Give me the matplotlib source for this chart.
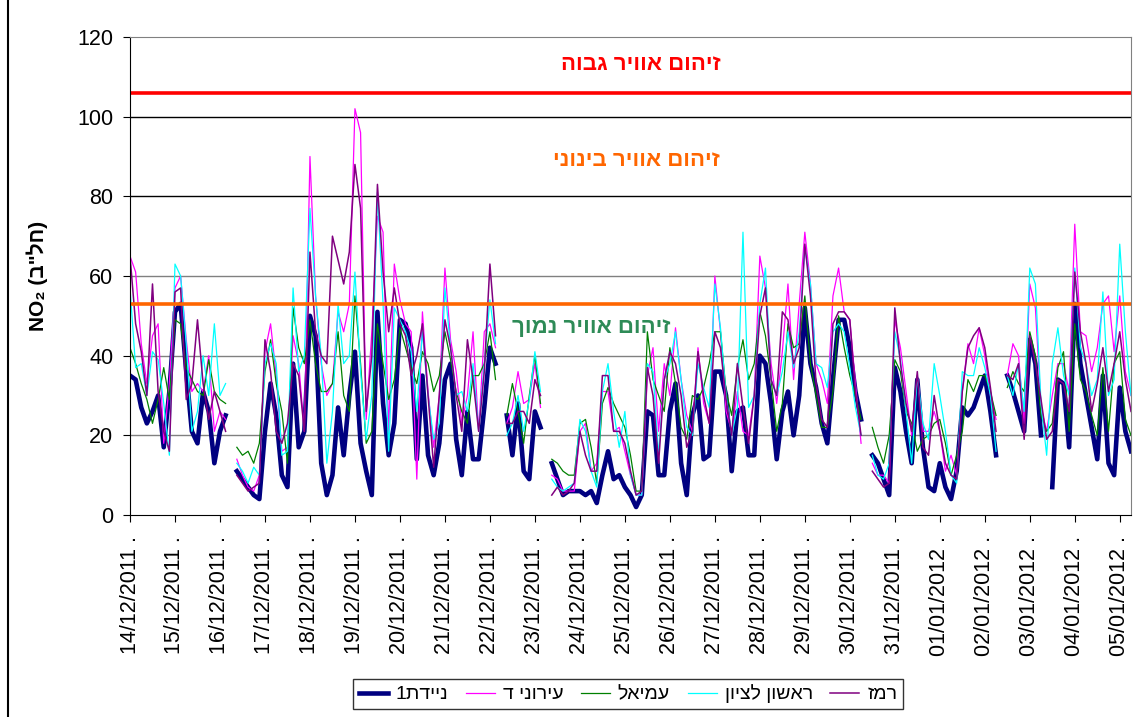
import numpy as np
import pandas as pd
import matplotlib
matplotlib.use("Agg")
import matplotlib.pyplot as plt
from matplotlib.lines import Line2D

plt.rcParams['font.family'] = ['Liberation Sans', 'DejaVu Sans']

nan = np.nan

# 3-hourly NO2 readings (ppb) from 14/12/2011 00:00, one row per day
navy = [
    35, 34, 27, 23, 26, 30, 17, 31,
    51, 53, 36, 21, 18, 31, 26, 13,
    21, 25, nan, 11, 9, 7, 5, 4,
    21, 33, 25, 10, 7, 38, 17, 21,
    50, 45, 13, 5, 10, 27, 15, 30,
    41, 18, 11, 5, 51, 28, 15, 23,
    49, 48, 42, 14, 35, 15, 10, 18,
    34, 38, 19, 10, 26, 14, 14, 27,
    42, 38, nan, 25, 15, 28, 11, 9,
    26, 22, nan, 13, 9, 5, 6, 6,
    6, 5, 6, 3, 10, 16, 9, 10,
    7, 5, 2, 5, 26, 25, 10, 10,
    26, 33, 13, 5, 25, 30, 14, 15,
    36, 36, 30, 11, 26, 27, 15, 15,
    40, 38, 28, 14, 26, 31, 20, 30,
    52, 38, 32, 23, 18, 34, 49, 49,
    42, 31, 24, nan, 15, 13, 9, 5,
    37, 31, 21, 13, 34, 17, 7, 6,
    13, 7, 4, 11, 27, 25, 27, 31,
    35, 26, 15, nan, 35, 31, 26, 21,
    44, 38, 20, nan, 7, 34, 33, 17,
    53, 38, 30, 22, 14, 35, 13, 10,
    32, 21, 16,
]

magenta = [
    65, 61, 43, 33, 45, 48, 18, 33,
    57, 60, 44, 31, 33, 31, 40, 21,
    26, 24, nan, 14, 10, 7, 6, 10,
    41, 48, 35, 16, 17, 45, 38, 21,
    90, 55, 38, 30, 33, 51, 46, 53,
    102, 96, 24, 46, 75, 71, 21, 63,
    54, 48, 46, 9, 51, 31, 17, 30,
    62, 44, 36, 23, 30, 46, 21, 46,
    48, 42, nan, 23, 27, 36, 28, 29,
    38, 27, nan, 10, 9, 6, 6, 6,
    21, 23, 11, 13, 31, 31, 21, 22,
    16, 10, 5, 5, 35, 42, 21, 38,
    30, 47, 34, 25, 21, 42, 28, 23,
    60, 46, 26, 21, 31, 21, 20, 30,
    65, 57, 38, 28, 41, 58, 34, 53,
    71, 58, 38, 34, 28, 55, 62, 51,
    49, 33, 18, nan, 13, 10, 10, 8,
    49, 42, 31, 20, 35, 21, 21, 26,
    21, 11, 15, 10, 31, 43, 38, 47,
    40, 30, 24, nan, 35, 43, 40, 23,
    58, 52, 27, 21, 30, 38, 38, 31,
    73, 46, 45, 36, 42, 53, 55, 41,
    55, 36, 30,
]

green = [
    42, 38, 33, 29, 23, 29, 37, 29,
    49, 48, 37, 34, 31, 30, 39, 31,
    29, 28, nan, 17, 15, 16, 13, 18,
    36, 44, 33, 26, 13, 52, 42, 38,
    49, 38, 31, 31, 33, 46, 30, 26,
    55, 38, 18, 21, 48, 38, 29, 34,
    47, 42, 37, 33, 41, 38, 31, 35,
    46, 39, 31, 26, 23, 35, 35, 38,
    46, 34, nan, 25, 33, 26, 18, 30,
    40, 28, nan, 14, 13, 11, 10, 10,
    23, 24, 17, 8, 28, 32, 28, 25,
    22, 15, 6, 6, 46, 34, 30, 26,
    42, 33, 22, 19, 30, 29, 32, 38,
    46, 46, 31, 25, 37, 44, 34, 38,
    51, 45, 34, 21, 28, 48, 42, 43,
    55, 38, 30, 22, 22, 31, 50, 42,
    35, 30, 24, nan, 22, 17, 13, 20,
    39, 36, 26, 23, 16, 19, 20, 23,
    24, 18, 10, 15, 21, 34, 31, 35,
    35, 31, 25, nan, 32, 36, 33, 31,
    46, 40, 25, 21, 23, 37, 41, 21,
    48, 34, 31, 25, 20, 37, 21, 38,
    41, 24, 20,
]

cyan = [
    57, 37, 38, 30, 41, 39, 28, 15,
    63, 60, 43, 21, 26, 40, 30, 48,
    30, 33, nan, 13, 11, 8, 12, 10,
    38, 43, 38, 15, 16, 57, 36, 40,
    77, 55, 40, 13, 26, 53, 38, 40,
    61, 36, 19, 30, 81, 53, 16, 52,
    49, 46, 41, 26, 46, 30, 19, 23,
    57, 42, 30, 31, 26, 38, 21, 38,
    54, 43, nan, 20, 23, 30, 21, 29,
    41, 31, nan, 9, 7, 6, 7, 8,
    24, 21, 11, 7, 31, 38, 26, 17,
    26, 10, 5, 5, 38, 36, 15, 34,
    38, 46, 34, 22, 20, 38, 32, 27,
    58, 47, 30, 20, 27, 71, 27, 30,
    53, 62, 34, 30, 36, 46, 37, 46,
    67, 58, 38, 37, 32, 46, 48, 46,
    37, 27, 20, nan, 15, 10, 9, 13,
    46, 39, 26, 13, 35, 23, 19, 38,
    30, 21, 10, 8, 36, 35, 35, 42,
    37, 30, 16, nan, 35, 30, 38, 26,
    62, 58, 28, 15, 38, 47, 35, 30,
    62, 42, 38, 30, 34, 56, 30, 34,
    68, 46, 30,
]

purple = [
    65, 48, 41, 30, 58, 31, 21, 16,
    56, 57, 29, 33, 49, 33, 24, 31,
    26, 21, nan, 10, 8, 6, 7, 8,
    44, 36, 21, 18, 23, 38, 35, 21,
    66, 46, 40, 38, 70, 64, 58, 66,
    88, 77, 26, 40, 83, 61, 46, 57,
    48, 45, 35, 40, 48, 30, 12, 30,
    49, 42, 30, 21, 44, 34, 21, 36,
    63, 45, nan, 23, 23, 26, 26, 23,
    34, 30, nan, 5, 7, 5, 6, 8,
    21, 15, 11, 11, 35, 35, 21, 21,
    18, 11, 5, 6, 37, 30, 13, 34,
    41, 38, 30, 17, 21, 41, 30, 23,
    46, 42, 29, 20, 38, 27, 18, 30,
    50, 57, 34, 30, 51, 49, 38, 42,
    68, 55, 33, 24, 22, 48, 51, 51,
    49, 31, 20, nan, 11, 9, 7, 8,
    52, 38, 28, 21, 36, 17, 15, 30,
    21, 13, 10, 9, 31, 42, 45, 47,
    42, 32, 21, nan, 35, 34, 38, 19,
    45, 38, 29, 19, 21, 34, 33, 26,
    61, 46, 38, 26, 33, 42, 31, 38,
    46, 34, 26,
]

station_names = ["ניידת1", "עירוני ד", "עמיאל", "ראשון לציון", "רמז"]
level_names = ["זיהום אוויר גבוה", "זיהום אוויר בינוני", "זיהום אוויר נמוך"]
high_limit = 106
mid_limit = 53
dates = pd.date_range("2011-12-14", "2012-01-05")


def rtl(s):
    # matplotlib has no bidi support, feed Hebrew in visual order
    return s[::-1]


t = np.arange(len(navy)) / 8.0  # days since 14/12/2011

fig = plt.figure(figsize=(11.35, 7.17), dpi=100)
ax = fig.add_axes([130 / 1135, 1 - 515 / 717, 1001 / 1135, 478 / 717])

for yv in [20, 40, 60]:
    ax.axhline(yv, color="#808080", lw=1, zorder=0)
for yv in [80, 100]:
    ax.axhline(yv, color="black", lw=1, zorder=0)

styles = [
    (navy, "#000080", 3.3),
    (magenta, "#FF00FF", 0.9),
    (green, "#008000", 0.9),
    (cyan, "#00FFFF", 0.9),
    (purple, "#800080", 1.1),
]
handles = []
for (vals, col, lw), name in zip(styles, station_names):
    (ln,) = ax.plot(t, vals, color=col, lw=lw, solid_joinstyle="round")
    handles.append(ln)

ax.axhline(high_limit, color="#FF0000", lw=2.6)
ax.axhline(mid_limit, color="#FF6600", lw=2.6)

hfam = ["Liberation Sans", "DejaVu Sans"]
ax.text(11.35, 113, rtl(level_names[0]), color="#FF0000", fontsize=16,
        fontweight="bold", ha="center", va="center", family=hfam)
ax.text(11.25, 89, rtl(level_names[1]), color="#FF6600", fontsize=16,
        fontweight="bold", ha="center", va="center", family=hfam)
ax.text(10.25, 47, rtl(level_names[2]), color="#2E8B57", fontsize=16,
        fontweight="bold", ha="center", va="center", family=hfam)

ax.set_xlim(0, 22.25)
ax.set_ylim(0, 120)
ax.set_yticks(range(0, 121, 20))
ax.set_xticks(range(len(dates)))
ax.set_xticklabels([d.strftime("%d/%m/%Y") + " ." for d in dates],
                   rotation=90, fontsize=15.5)
ax.tick_params(axis="y", labelsize=15.5, length=5, pad=7, direction="out")
ax.tick_params(axis="x", length=5, pad=10, direction="out")

ax.spines["left"].set_color("black")
ax.spines["bottom"].set_color("black")
ax.spines["top"].set_color("#808080")
ax.spines["right"].set_color("#808080")

ax.set_ylabel("NO₂ (" + rtl('חל"ב') + ")", fontsize=15, fontweight="bold")
ax.yaxis.set_label_coords(-82 / 1001, 0.5)

leg = fig.legend(handles, [rtl(n) for n in station_names], ncol=5, loc="center",
                 bbox_to_anchor=(628 / 1135, 1 - 694 / 717), fontsize=14,
                 frameon=True, fancybox=False, edgecolor="black",
                 handlelength=1.5, handletextpad=0.4, columnspacing=0.9,
                 borderpad=0.3)
leg.get_frame().set_linewidth(1)

fig.add_artist(Line2D([8 / 1135, 8 / 1135], [0, 1], color="black", lw=1.5))

fig.savefig("out.png", dpi=100)
